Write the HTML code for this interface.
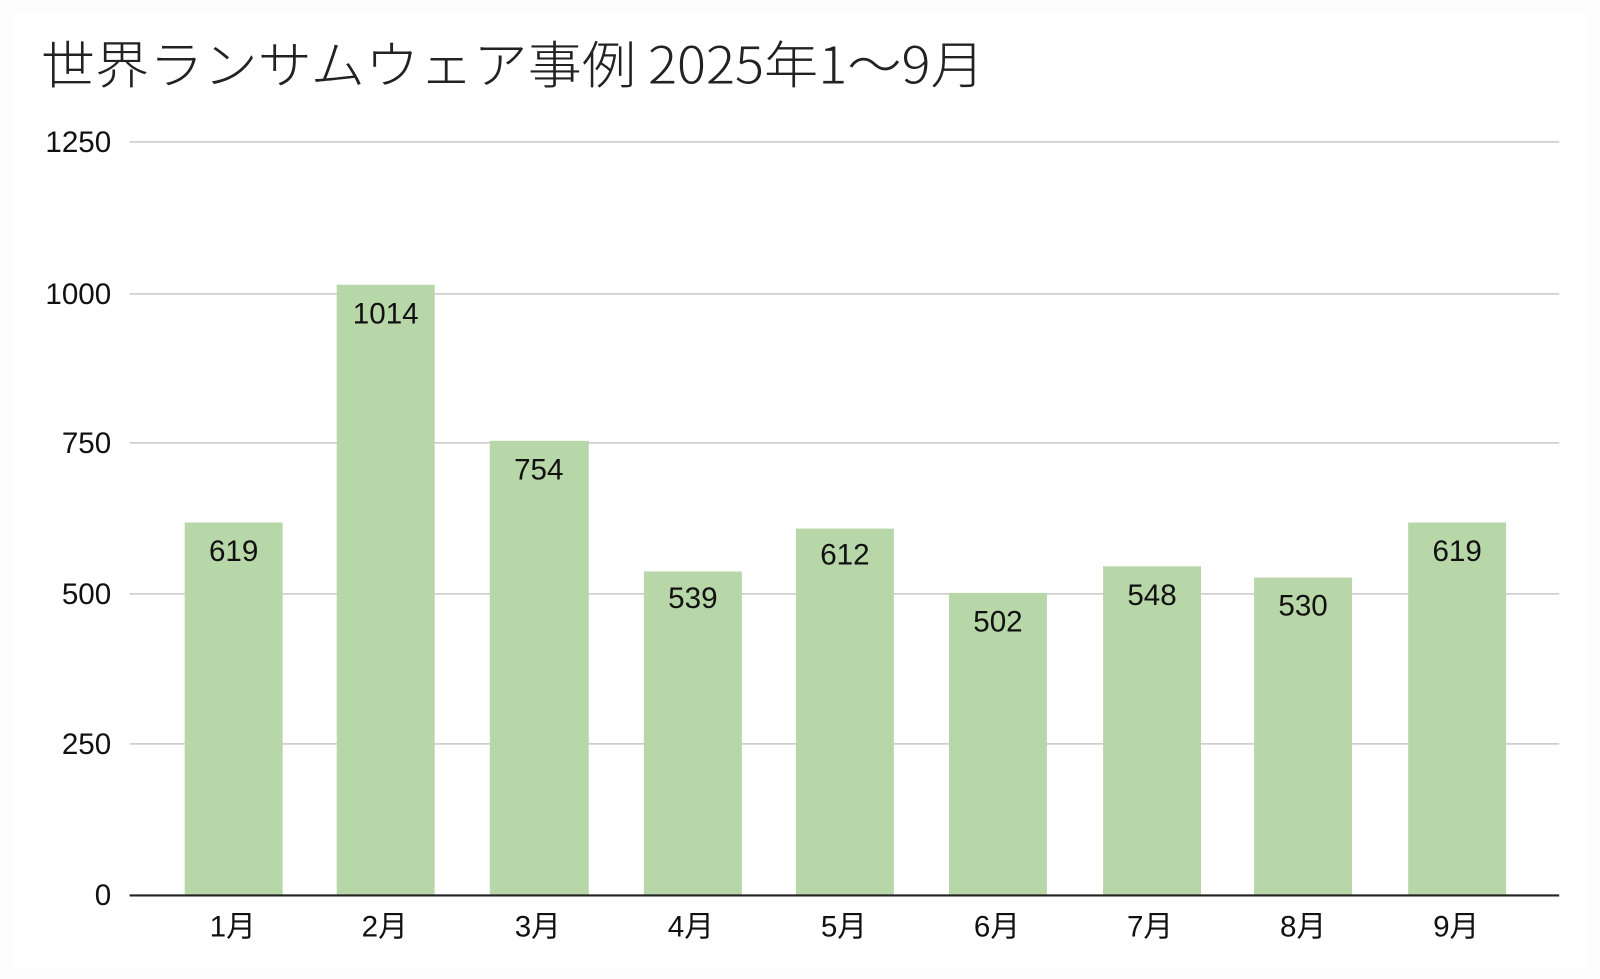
<!DOCTYPE html>
<html><head><meta charset="utf-8"><style>
html,body{margin:0;padding:0;background:#fff;}
svg{display:block;}
</style></head><body>
<svg width="1600" height="979" viewBox="0 0 1568 959.4" preserveAspectRatio="none" xmlns="http://www.w3.org/2000/svg" font-family="Liberation Sans, Noto Sans CJK JP, sans-serif">
<rect width="1568" height="960" fill="#fdfdfd"/>
<rect x="12" y="12" width="1544" height="935" fill="#ffffff"/>
<text x="40" y="82" font-size="50" font-weight="300" fill="#222" textLength="925" lengthAdjust="spacingAndGlyphs" font-family="Noto Sans CJK JP, sans-serif">世界ランサムウェア事例 2025年1～9月</text>
<g stroke="#c8c8c8" stroke-width="1.5">
<line x1="127" y1="139" x2="1528" y2="139"/>
<line x1="127" y1="288" x2="1528" y2="288"/>
<line x1="127" y1="434" x2="1528" y2="434"/>
<line x1="127" y1="582" x2="1528" y2="582"/>
<line x1="127" y1="729" x2="1528" y2="729"/>
</g>
<g font-size="29" fill="#111" text-anchor="end">
<text x="109" y="149">1250</text>
<text x="109" y="298">1000</text>
<text x="109" y="444">750</text>
<text x="109" y="592">500</text>
<text x="109" y="739">250</text>
<text x="109" y="887">0</text>
</g>
<g fill="#b7d7a8">
<rect x="181" y="512" width="96" height="365"/>
<rect x="330" y="279" width="96" height="598"/>
<rect x="480" y="432" width="97" height="445"/>
<rect x="631" y="560" width="96" height="317"/>
<rect x="780" y="518" width="96" height="359"/>
<rect x="930" y="581" width="96" height="296"/>
<rect x="1081" y="555" width="96" height="322"/>
<rect x="1229" y="566" width="96" height="311"/>
<rect x="1380" y="512" width="96" height="365"/>
</g>
<line x1="127" y1="877.5" x2="1528" y2="877.5" stroke="#222" stroke-width="2"/>
<g font-size="29" fill="#111" text-anchor="middle">
<text x="229" y="550">619</text>
<text x="378" y="317">1014</text>
<text x="528" y="470">754</text>
<text x="679" y="596">539</text>
<text x="828" y="553">612</text>
<text x="978" y="619">502</text>
<text x="1129" y="593">548</text>
<text x="1277" y="603">530</text>
<text x="1428" y="550">619</text>
</g>
<g font-size="29" fill="#111" text-anchor="middle">
<text x="228" y="918">1月</text>
<text x="377" y="918">2月</text>
<text x="527" y="918">3月</text>
<text x="677" y="918">4月</text>
<text x="827" y="918">5月</text>
<text x="977" y="918">6月</text>
<text x="1127" y="918">7月</text>
<text x="1277" y="918">8月</text>
<text x="1427" y="918">9月</text>
</g>
</svg>
</body></html>
